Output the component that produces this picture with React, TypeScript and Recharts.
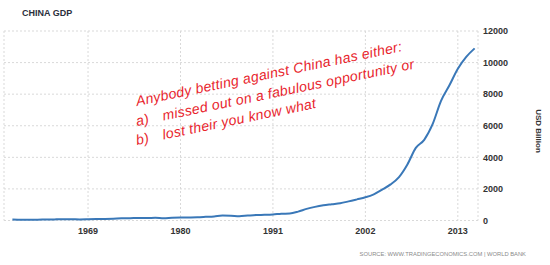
import React from "react";
import { LineChart, Line, XAxis, YAxis, CartesianGrid } from "recharts";

const years = [
  1960, 1961, 1962, 1963, 1964, 1965, 1966, 1967, 1968, 1969,
  1970, 1971, 1972, 1973, 1974, 1975, 1976, 1977, 1978, 1979,
  1980, 1981, 1982, 1983, 1984, 1985, 1986, 1987, 1988, 1989,
  1990, 1991, 1992, 1993, 1994, 1995, 1996, 1997, 1998, 1999,
  2000, 2001, 2002, 2003, 2004, 2005, 2006, 2007, 2008, 2009,
  2010, 2011, 2012, 2013, 2014, 2015,
];

const gdpBillion = [
  60, 50, 47, 51, 60, 70, 77, 73, 71, 80,
  93, 100, 114, 139, 144, 163, 154, 175, 150, 178,
  191, 196, 205, 231, 260, 310, 301, 273, 312, 348,
  361, 383, 427, 445, 564, 735, 864, 962, 1029, 1094,
  1211, 1339, 1471, 1660, 1955, 2286, 2752, 3552, 4598, 5110,
  6101, 7573, 8561, 9607, 10360, 10900,
];

const xTicks = [1969, 1980, 1991, 2002, 2013];
const yTicks = [0, 2000, 4000, 6000, 8000, 10000, 12000];

const title = "CHINA GDP";
const unitLabel = "USD Billion";
const sourceLabel = "SOURCE: WWW.TRADINGECONOMICS.COM | WORLD BANK";
const noteLine1 = "Anybody betting against China has either:";
const noteLine2a = "a)";
const noteLine2b = "missed out on a fabulous opportunity or";
const noteLine3a = "b)";
const noteLine3b = "lost their you know what";

const data = years.map((y, i) => ({ year: y, gdp: gdpBillion[i] }));

const tickFont = {
  fontFamily: "'Liberation Sans', Arial, sans-serif",
  fontSize: 9,
  fontWeight: 700,
  fill: "#333",
};

const noteStyle: React.CSSProperties = {
  fontFamily: "'Liberation Sans', Arial, sans-serif",
  fontStyle: "italic",
  fontSize: 14,
  letterSpacing: 0.3,
  fill: "#e8242c",
};

export default function App() {
  return (
    <div
      style={{
        position: "absolute",
        left: 0,
        top: 0,
        width: 550,
        height: 265,
        background: "#fff",
      }}
    >
      <LineChart
        width={550}
        height={265}
        data={data}
        margin={{ top: 31, right: 0, left: 4, bottom: 0 }}
      >
        <CartesianGrid stroke="#d9d9d9" strokeDasharray="2 2" />
        <XAxis
          dataKey="year"
          type="number"
          domain={[1959, 2015.4]}
          ticks={xTicks}
          allowDataOverflow
          axisLine={false}
          tickLine={false}
          tickSize={6}
          tickMargin={1}
          height={44.5}
          tick={tickFont}
          interval={0}
        />
        <YAxis
          orientation="right"
          domain={[0, 12000]}
          ticks={yTicks}
          axisLine={false}
          tickLine={false}
          tickSize={5}
          tickMargin={0}
          width={72}
          tick={{ ...tickFont, textAnchor: "start" }}
          interval={0}
        />
        <Line
          type="monotone"
          dataKey="gdp"
          stroke="#3a78b8"
          strokeWidth={2}
          dot={false}
          isAnimationActive={false}
        />
      </LineChart>
      <svg
        width={550}
        height={265}
        style={{ position: "absolute", left: 0, top: 0, pointerEvents: "none" }}
      >
        <text
          x={22}
          y={15.5}
          fontFamily="'Liberation Sans', Arial, sans-serif"
          fontSize={9}
          fontWeight={700}
          fill="#2b2f3c"
        >
          {title}
        </text>
        <text
          x={536}
          y={131}
          transform="rotate(90, 536, 131)"
          textAnchor="middle"
          fontFamily="'Liberation Sans', Arial, sans-serif"
          fontSize={8}
          fontWeight={700}
          fill="#333"
        >
          {unitLabel}
        </text>
        <text
          x={526}
          y={256}
          textAnchor="end"
          fontFamily="'Liberation Sans', Arial, sans-serif"
          fontSize={5.8}
          fill="#8a8a8a"
        >
          {sourceLabel}
        </text>
        <text x={137} y={106} transform="rotate(-11.7, 137, 106)" style={noteStyle}>
          {noteLine1}
        </text>
        <text x={137} y={126} transform="rotate(-11.7, 137, 126)" style={noteStyle}>
          <tspan>{noteLine2a}</tspan>
          <tspan dx={14}>{noteLine2b}</tspan>
        </text>
        <text x={137} y={145} transform="rotate(-11.7, 137, 145)" style={noteStyle}>
          <tspan>{noteLine3a}</tspan>
          <tspan dx={14}>{noteLine3b}</tspan>
        </text>
      </svg>
    </div>
  );
}
